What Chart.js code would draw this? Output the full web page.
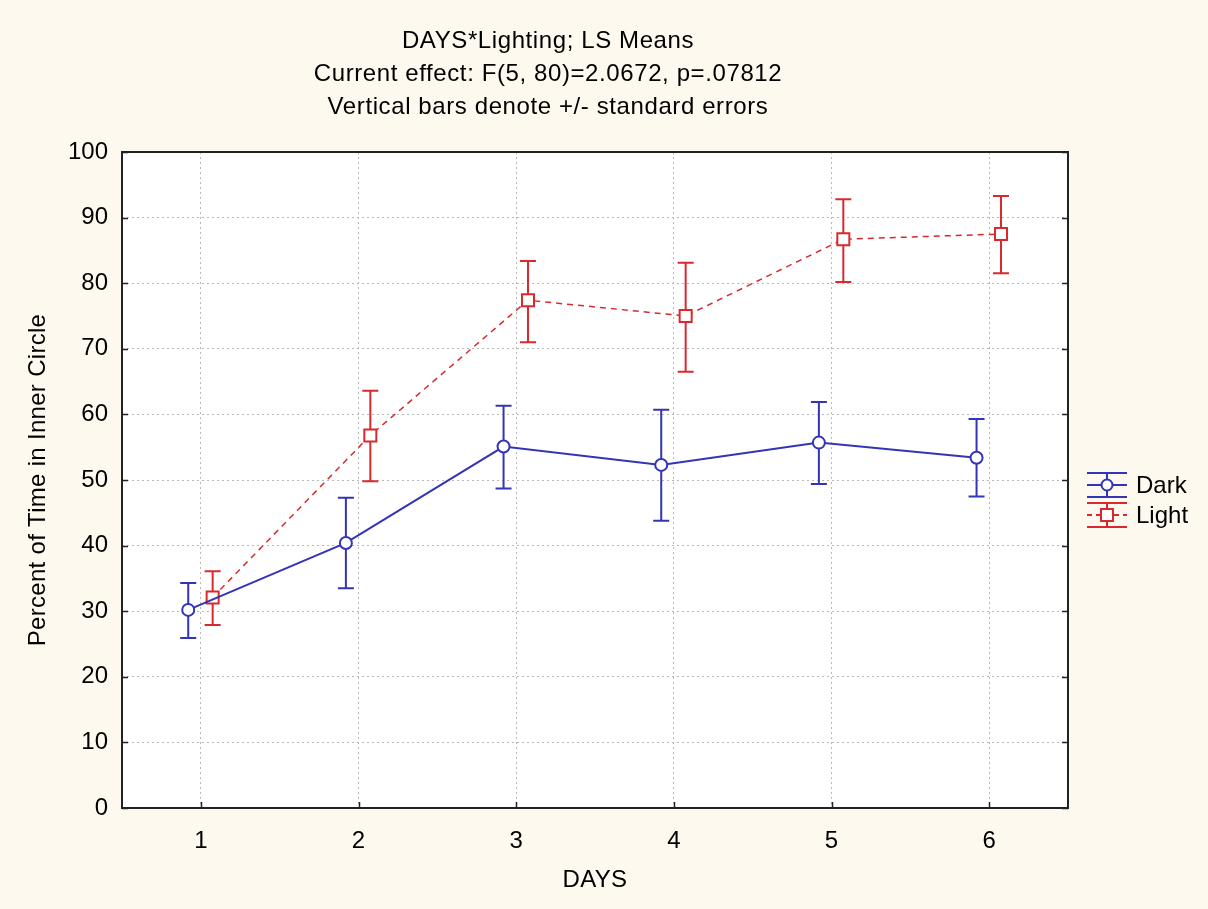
<!DOCTYPE html>
<html>
<head>
<meta charset="utf-8">
<script src="https://cdn.jsdelivr.net/npm/chart.js@4/dist/chart.umd.min.js"></script>
<style>
  body { margin: 0; background: #fdf9ee; }
  canvas { display: block; }
</style>
</head>
<body>
<canvas id="myChart" width="1208" height="909"></canvas>
<script>
// values
const days = [1, 2, 3, 4, 5, 6];
const yTicks = [0, 10, 20, 30, 40, 50, 60, 70, 80, 90, 100];
const darkMean = [30.2, 40.4, 55.1, 52.3, 55.7, 53.4];
const darkLow  = [25.9, 33.5, 48.7, 43.8, 49.4, 47.5];
const darkHigh = [34.3, 47.3, 61.3, 60.7, 61.9, 59.3];
const lightMean = [32.1, 56.8, 77.4, 75.0, 86.7, 87.5];
const lightLow  = [27.9, 49.8, 71.0, 66.5, 80.2, 81.5];
const lightHigh = [36.1, 63.6, 83.4, 83.1, 92.8, 93.3];
const titleLines = ['DAYS*Lighting; LS Means', 'Current effect: F(5, 80)=2.0672, p=.07812', 'Vertical bars denote +/- standard errors'];

const BLUE = '#3434b8';
const RED = '#d82a2e';
const FONT = '"Liberation Sans", Arial, sans-serif';
const darkShift = -0.08, lightShift = 0.075;

function points(means, shift) {
  return means.map((v, i) => ({ x: days[i] + shift, y: v }));
}

const errBars = [
  { low: darkLow, high: darkHigh, shift: darkShift, color: BLUE },
  { low: lightLow, high: lightHigh, shift: lightShift, color: RED }
];

const decor = {
  id: 'decor',
  beforeDraw(chart) {
    const ctx = chart.ctx, a = chart.chartArea;
    ctx.save();
    ctx.fillStyle = '#fdf9ee';
    ctx.fillRect(0, 0, chart.width, chart.height);
    ctx.fillStyle = '#ffffff';
    ctx.fillRect(a.left, a.top, a.right - a.left, a.bottom - a.top);
    ctx.restore();
  },
  beforeDatasetsDraw(chart) {
    const ctx = chart.ctx, xs = chart.scales.x, ys = chart.scales.y;
    ctx.save();
    ctx.lineWidth = 2;
    errBars.forEach(e => {
      ctx.strokeStyle = e.color;
      days.forEach((d, i) => {
        const px = xs.getPixelForValue(d + e.shift);
        const y1 = ys.getPixelForValue(e.low[i]);
        const y2 = ys.getPixelForValue(e.high[i]);
        ctx.beginPath();
        ctx.moveTo(px, y1); ctx.lineTo(px, y2);
        ctx.moveTo(px - 8, y1); ctx.lineTo(px + 8, y1);
        ctx.moveTo(px - 8, y2); ctx.lineTo(px + 8, y2);
        ctx.stroke();
      });
    });
    ctx.restore();
  },
  afterDraw(chart) {
    const ctx = chart.ctx, a = chart.chartArea, xs = chart.scales.x, ys = chart.scales.y;
    ctx.save();
    // frame + inner ticks
    ctx.strokeStyle = '#222';
    ctx.lineWidth = 2;
    ctx.strokeRect(a.left, a.top, a.right - a.left, a.bottom - a.top);
    ctx.lineWidth = 1.5;
    ctx.beginPath();
    yTicks.forEach(v => {
      const py = Math.round(ys.getPixelForValue(v)) + 0.5;
      ctx.moveTo(a.left, py); ctx.lineTo(a.left + 6, py);
      ctx.moveTo(a.right, py); ctx.lineTo(a.right - 6, py);
    });
    days.forEach(d => {
      const px = Math.round(xs.getPixelForValue(d)) + 0.5;
      ctx.moveTo(px, a.bottom); ctx.lineTo(px, a.bottom - 6);
    });
    ctx.stroke();

    // titles
    ctx.fillStyle = '#000';
    ctx.textAlign = 'center';
    ctx.textBaseline = 'middle';
    ctx.font = '24px ' + FONT;
    ctx.letterSpacing = '0.6px';
    titleLines.forEach((t, i) => ctx.fillText(t, 548, 41 + i * 33));

    // axis titles
    ctx.letterSpacing = '0.3px';
    ctx.fillText('DAYS', (a.left + a.right) / 2, 880);
    ctx.save();
    ctx.translate(38, (a.top + a.bottom) / 2);
    ctx.rotate(-Math.PI / 2);
    ctx.fillText('Percent of Time in Inner Circle', 0, 0);
    ctx.restore();
    ctx.letterSpacing = '0px';

    // legend
    const lx1 = 1087, lx2 = 1127, lc = 1107;
    const drawKey = (top, color, dashed, square) => {
      const mid = top + 12, bot = top + 24;
      ctx.strokeStyle = color;
      ctx.lineWidth = 2;
      ctx.setLineDash([]);
      ctx.beginPath();
      ctx.moveTo(lx1, top); ctx.lineTo(lx2, top);
      ctx.moveTo(lx1, bot); ctx.lineTo(lx2, bot);
      ctx.moveTo(lc, top); ctx.lineTo(lc, bot);
      ctx.stroke();
      ctx.setLineDash(dashed ? [5, 4] : []);
      ctx.beginPath();
      ctx.moveTo(lx1, mid); ctx.lineTo(lx2, mid);
      ctx.stroke();
      ctx.setLineDash([]);
      ctx.fillStyle = '#fff';
      ctx.beginPath();
      if (square) ctx.rect(lc - 6, mid - 6, 12, 12);
      else ctx.arc(lc, mid, 5.5, 0, Math.PI * 2);
      ctx.fill();
      ctx.stroke();
    };
    drawKey(473, BLUE, false, false);
    drawKey(503, RED, true, true);
    ctx.fillStyle = '#000';
    ctx.textAlign = 'left';
    ctx.font = '24px ' + FONT;
    ctx.fillText('Dark', 1136, 486);
    ctx.fillText('Light', 1136, 516);
    ctx.restore();
  }
};

const ctx = document.getElementById('myChart').getContext('2d');
const chart = new Chart(ctx, {
  type: 'line',
  data: {
    datasets: [{
      label: 'Dark',
      data: points(darkMean, darkShift),
      borderColor: BLUE,
      borderWidth: 2,
      pointStyle: 'circle',
      pointRadius: 6,
      pointBorderWidth: 2,
      pointBorderColor: BLUE,
      pointBackgroundColor: '#fff',
      tension: 0
    }, {
      label: 'Light',
      data: points(lightMean, lightShift),
      borderColor: RED,
      borderWidth: 1.5,
      borderDash: [6, 5],
      pointStyle: 'rect',
      pointRadius: 8.5,
      pointBorderWidth: 2,
      pointBorderColor: RED,
      pointBackgroundColor: '#fff',
      tension: 0
    }]
  },
  options: {
    responsive: false,
    animation: false,
    layout: { padding: { top: 152, right: 140, left: 0, bottom: 0 } },
    plugins: { legend: { display: false }, title: { display: false }, tooltip: { enabled: false } },
    scales: {
      x: {
        type: 'linear',
        min: 0.5,
        max: 6.5,
        afterBuildTicks: s => { s.ticks = days.map(v => ({ value: v })); },
        afterFit: s => { s.height = 101; },
        grid: { color: '#b8b8b8', drawTicks: false },
        border: { display: false, dash: [2, 3] },
        ticks: { color: '#000', padding: 19, font: { size: 24, family: FONT }, maxRotation: 0 }
      },
      y: {
        min: 0,
        max: 100,
        afterBuildTicks: s => { s.ticks = yTicks.map(v => ({ value: v })); },
        afterFit: s => { s.width = 122; },
        grid: { color: '#b8b8b8', drawTicks: false },
        border: { display: false, dash: [2, 3] },
        ticks: { color: '#000', padding: 14, font: { size: 24, family: FONT } }
      }
    }
  },
  plugins: [decor]
});
</script>
</body>
</html>
